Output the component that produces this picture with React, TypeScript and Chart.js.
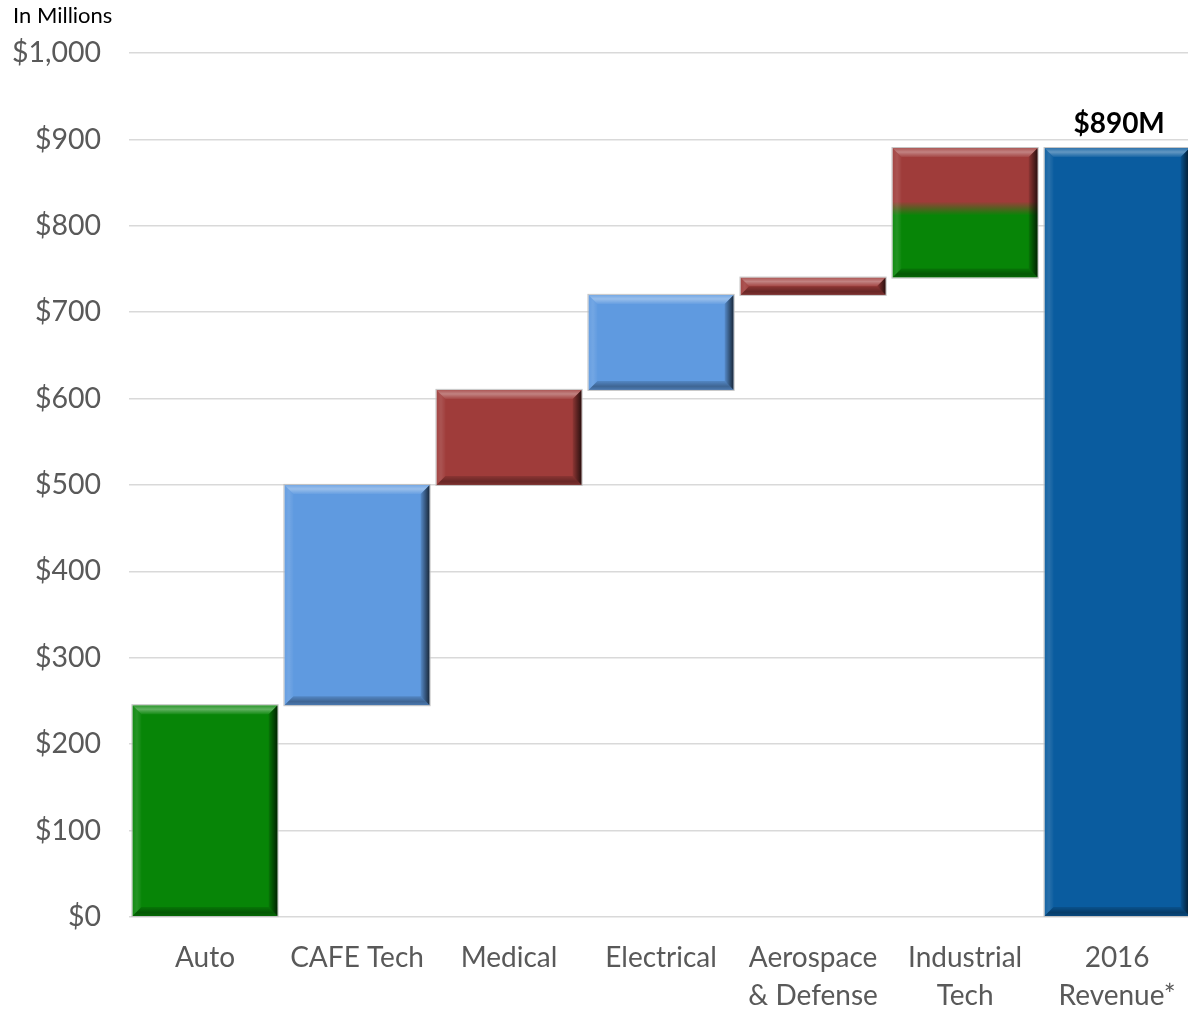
import React, { useEffect, useRef } from "react";
import { Chart, registerables } from "chart.js";

Chart.register(...registerables);

// Revenue bridge by segment (in millions of USD)
const categories: string[][] = [
  ["Auto"],
  ["CAFE Tech"],
  ["Medical"],
  ["Electrical"],
  ["Aerospace", "& Defense"],
  ["Industrial", "Tech"],
  ["2016", "Revenue*"],
];
const barStarts: number[] = [0, 245, 500, 610, 720, 740, 0];
const barEnds: number[] = [245, 500, 610, 720, 740, 890, 890];
// Industrial Tech is split: green below this value, red above
const industrialSplit = 820;
const yTicks: number[] = [0, 100, 200, 300, 400, 500, 600, 700, 800, 900, 1000];

const GREEN = "#078507";
const LIGHT_BLUE = "#5F9AE0";
const RED = "#9F3C3A";
const DARK_BLUE = "#0A5C9F";
const barColors: string[] = [GREEN, LIGHT_BLUE, RED, LIGHT_BLUE, RED, "split", DARK_BLUE];

const FONT = "Lato, 'Open Sans', sans-serif";

const fmtMoney = (v: number) => "$" + v.toLocaleString("en-US");

// Draws the bevelled edges on each bar, plus the header and total labels
const decorPlugin = {
  id: "decor",
  afterDatasetsDraw(chart: any) {
    const ctx: CanvasRenderingContext2D = chart.ctx;
    const meta = chart.getDatasetMeta(0);
    meta.data.forEach((bar: any) => {
      const { x, y, base, width } = bar.getProps(["x", "y", "base", "width"], true);
      const left = x - width / 2;
      const right = x + width / 2;
      const top = Math.min(y, base);
      const bottom = Math.max(y, base);
      const h = bottom - top;
      const b = Math.min(9, h / 2);
      ctx.save();

      // top band
      ctx.beginPath();
      ctx.moveTo(left, top);
      ctx.lineTo(right, top);
      ctx.lineTo(right - b, top + b);
      ctx.lineTo(left + b, top + b);
      ctx.closePath();
      const gt = ctx.createLinearGradient(0, top, 0, top + b);
      gt.addColorStop(0, "rgba(255,255,255,0.14)");
      gt.addColorStop(0.45, "rgba(255,255,255,0.36)");
      gt.addColorStop(1, "rgba(255,255,255,0.06)");
      ctx.fillStyle = gt;
      ctx.fill();

      // left band
      ctx.beginPath();
      ctx.moveTo(left, top);
      ctx.lineTo(left + b, top + b);
      ctx.lineTo(left + b, bottom - b);
      ctx.lineTo(left, bottom);
      ctx.closePath();
      const gl = ctx.createLinearGradient(left, 0, left + b, 0);
      gl.addColorStop(0, "rgba(255,255,255,0.05)");
      gl.addColorStop(0.5, "rgba(255,255,255,0.12)");
      gl.addColorStop(1, "rgba(255,255,255,0.02)");
      ctx.fillStyle = gl;
      ctx.fill();

      // bottom band
      ctx.beginPath();
      ctx.moveTo(left, bottom);
      ctx.lineTo(left + b, bottom - b);
      ctx.lineTo(right - b, bottom - b);
      ctx.lineTo(right, bottom);
      ctx.closePath();
      const gb = ctx.createLinearGradient(0, bottom - b, 0, bottom);
      gb.addColorStop(0, "rgba(0,0,0,0.12)");
      gb.addColorStop(0.6, "rgba(0,0,0,0.34)");
      gb.addColorStop(1, "rgba(0,0,0,0.22)");
      ctx.fillStyle = gb;
      ctx.fill();

      // right band
      ctx.beginPath();
      ctx.moveTo(right, top);
      ctx.lineTo(right, bottom);
      ctx.lineTo(right - b, bottom - b);
      ctx.lineTo(right - b, top + b);
      ctx.closePath();
      const gr = ctx.createLinearGradient(right - b, 0, right, 0);
      gr.addColorStop(0, "rgba(0,0,0,0.1)");
      gr.addColorStop(1, "rgba(0,0,0,0.75)");
      ctx.fillStyle = gr;
      ctx.fill();

      // thin outline
      ctx.strokeStyle = "rgba(190,190,190,0.9)";
      ctx.lineWidth = 1;
      ctx.strokeRect(left - 0.5, top - 0.5, width + 1, h + 1);
      ctx.restore();
    });

    // total label above the final bar
    const last = meta.data[meta.data.length - 1];
    const total = barEnds[barEnds.length - 1];
    ctx.save();
    ctx.fillStyle = "#000";
    ctx.font = `bold 28px ${FONT}`;
    ctx.textAlign = "center";
    ctx.textBaseline = "alphabetic";
    ctx.fillText(`$${total}M`, last.x + 2, chart.scales.y.getPixelForValue(total) - 15);

    // unit header
    ctx.font = `22px ${FONT}`;
    ctx.textAlign = "left";
    ctx.textBaseline = "middle";
    ctx.fillText("In Millions", 13, 16);
    ctx.restore();
  },
};

export default function App() {
  const canvasRef = useRef<HTMLCanvasElement | null>(null);

  useEffect(() => {
    const canvas = canvasRef.current;
    if (!canvas) return;

    const chart = new Chart(canvas, {
      type: "bar",
      data: {
        labels: categories,
        datasets: [
          {
            data: barStarts.map((s, i) => [s, barEnds[i]]) as any,
            backgroundColor: (c: any) => {
              const color = barColors[c.dataIndex];
              if (color !== "split") return color;
              const ch = c.chart;
              if (!ch.chartArea) return GREEN;
              const ys = ch.scales.y;
              const g = ch.ctx.createLinearGradient(
                0,
                ys.getPixelForValue(industrialSplit + 8),
                0,
                ys.getPixelForValue(industrialSplit - 8)
              );
              g.addColorStop(0, RED);
              g.addColorStop(1, GREEN);
              return g;
            },
            borderWidth: 0,
            barPercentage: 0.955,
            categoryPercentage: 1,
          },
        ],
      },
      options: {
        animation: false,
        responsive: false,
        maintainAspectRatio: false,
        layout: { padding: { top: 53, right: 4, left: 0, bottom: 0 } },
        plugins: {
          legend: { display: false },
          tooltip: { enabled: false },
        },
        scales: {
          x: {
            grid: { display: false, drawTicks: false },
            border: { display: false },
            ticks: {
              color: "#595959",
              font: { family: FONT, size: 28, lineHeight: 1.36 },
              padding: 22,
              maxRotation: 0,
              autoSkip: false,
            },
          },
          y: {
            min: 0,
            max: 1000,
            afterBuildTicks: (axis: any) => {
              axis.ticks = yTicks.map((v) => ({ value: v }));
            },
            afterFit: (axis: any) => {
              axis.width = 129;
            },
            grid: { color: "#d9d9d9", lineWidth: 1.5, drawTicks: false },
            border: { display: false },
            ticks: {
              color: "#595959",
              font: { family: FONT, size: 28.5 },
              padding: 28,
              callback: (v: any) => fmtMoney(Number(v)),
            },
          },
        },
      },
      plugins: [decorPlugin],
    });

    return () => chart.destroy();
  }, []);

  return (
    <div
      style={{
        position: "fixed",
        left: 0,
        top: 0,
        width: 1188,
        height: 1009,
        overflow: "hidden",
        background: "#fff",
      }}
    >
      <canvas ref={canvasRef} width={1198} height={1037} style={{ display: "block" }} />
    </div>
  );
}
